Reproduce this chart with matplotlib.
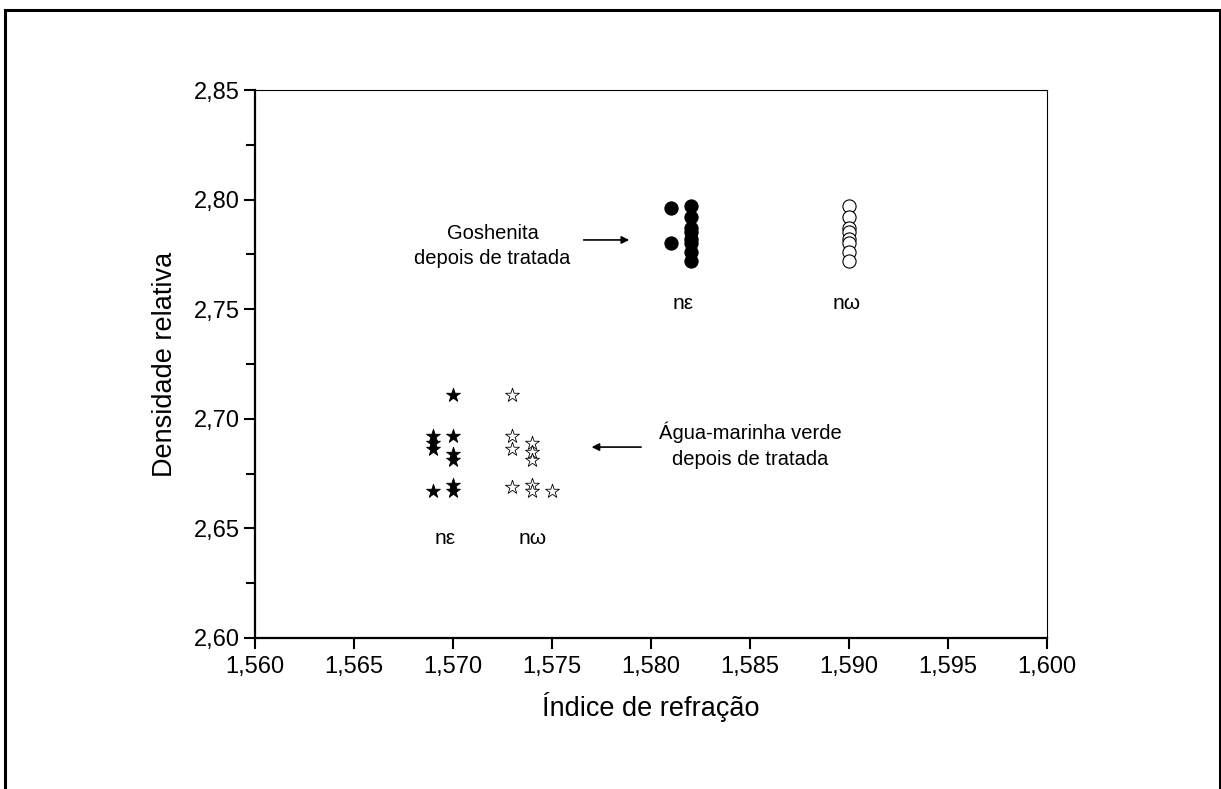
import matplotlib
matplotlib.use('Agg')
import matplotlib.pyplot as plt
from matplotlib.patches import Rectangle
from matplotlib.ticker import MultipleLocator, FuncFormatter

plt.rcParams['font.family'] = ['Liberation Sans', 'DejaVu Sans']

# goshenita depois de tratada
gosh_ne_x = [1.581, 1.581, 1.582, 1.582, 1.582, 1.582, 1.582, 1.582, 1.582, 1.582]
gosh_ne_y = [2.796, 2.780, 2.797, 2.792, 2.787, 2.785, 2.782, 2.780, 2.776, 2.772]
gosh_nw_x = [1.590] * 8
gosh_nw_y = [2.797, 2.792, 2.787, 2.785, 2.782, 2.780, 2.776, 2.772]

# agua-marinha verde depois de tratada
agua_ne_x = [1.569, 1.569, 1.569, 1.569, 1.570, 1.570, 1.570, 1.570, 1.570, 1.570]
agua_ne_y = [2.692, 2.689, 2.686, 2.667, 2.711, 2.692, 2.684, 2.681, 2.670, 2.667]
agua_nw_x = [1.573, 1.573, 1.573, 1.573, 1.574, 1.574, 1.574, 1.574, 1.574, 1.575]
agua_nw_y = [2.711, 2.692, 2.686, 2.669, 2.689, 2.685, 2.681, 2.670, 2.667, 2.667]

fig = plt.figure(figsize=(12.21, 7.89), dpi=100)
ax = fig.add_axes([0.2088, 0.1914, 0.6487, 0.6945])

ax.scatter(gosh_ne_x, gosh_ne_y, s=90, marker='o', facecolor='black', edgecolor='black', linewidth=0.8, zorder=3)
ax.scatter(gosh_nw_x, gosh_nw_y, s=90, marker='o', facecolor='white', edgecolor='black', linewidth=0.8, zorder=3)
ax.scatter(agua_ne_x, agua_ne_y, s=110, marker='*', facecolor='black', edgecolor='black', linewidth=0.6, zorder=3)
ax.scatter(agua_nw_x, agua_nw_y, s=110, marker='*', facecolor='white', edgecolor='black', linewidth=0.6, zorder=3)

ax.set_xlim(1.560, 1.600)
ax.set_ylim(2.60, 2.85)
ax.xaxis.set_major_locator(MultipleLocator(0.005))
ax.yaxis.set_major_locator(MultipleLocator(0.05))
ax.yaxis.set_minor_locator(MultipleLocator(0.025))
ax.xaxis.set_major_formatter(FuncFormatter(lambda v, p: f'{v:.3f}'.replace('.', ',')))
ax.yaxis.set_major_formatter(FuncFormatter(lambda v, p: f'{v:.2f}'.replace('.', ',')))

ax.tick_params(axis='both', which='major', direction='out', length=8, width=1.5, labelsize=17, color='black')
ax.tick_params(axis='y', which='minor', direction='out', length=6.5, width=1.5)
ax.tick_params(axis='x', pad=5)
ax.tick_params(axis='y', pad=3)

for side in ['left', 'bottom']:
    ax.spines[side].set_linewidth(1.6)
for side in ['top', 'right']:
    ax.spines[side].set_linewidth(0.8)

ax.set_xlabel('Índice de refração', fontsize=19.5, labelpad=10)
ax.set_ylabel('Densidade relativa', fontsize=19.5, labelpad=11)

# labels and arrows
ax.text(1.5720, 2.7788, 'Goshenita\ndepois de tratada', fontsize=14.5, ha='center', va='center', linespacing=1.45)
ax.annotate('', xy=(1.5789, 2.7816), xytext=(1.5766, 2.7816),
            arrowprops=dict(arrowstyle='-|>', color='black', lw=1.2, mutation_scale=11, shrinkA=0, shrinkB=0))
ax.text(1.5850, 2.6880, 'Água-marinha verde\ndepois de tratada', fontsize=14.5, ha='center', va='center', linespacing=1.45)
ax.annotate('', xy=(1.5770, 2.6871), xytext=(1.5795, 2.6871),
            arrowprops=dict(arrowstyle='-|>', color='black', lw=1.2, mutation_scale=11, shrinkA=0, shrinkB=0))

for x, y, lab in [(1.5816, 2.7528, 'nε'), (1.5899, 2.7528, 'nω'),
                  (1.5696, 2.6456, 'nε'), (1.5740, 2.6456, 'nω')]:
    ax.text(x, y, lab, fontsize=15, ha='center', va='center')

# frame around the figure
fig.patches.append(Rectangle((5 / 1221, -0.02), 1215 / 1221, 1.02 - 9.5 / 789,
                             transform=fig.transFigure, fill=False, edgecolor='black', linewidth=2.2))

fig.savefig('out.png', dpi=100)
